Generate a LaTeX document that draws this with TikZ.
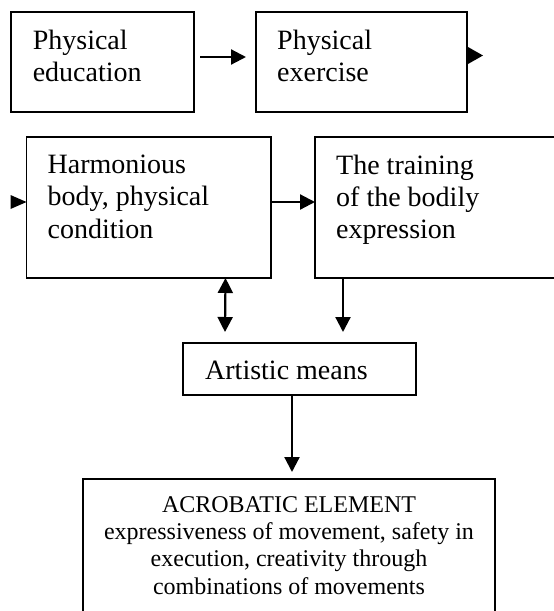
\documentclass[tikz,border=0pt]{standalone}
\usepackage{fontspec}
\setmainfont{Liberation Serif}
\usetikzlibrary{arrows.meta}
\tikzset{
  box/.style={draw, line width=1.8pt, inner sep=0pt, outer sep=0pt, anchor=north west},
  toptext/.style={anchor=north west, inner sep=0pt, align=left, font=\fontsize{28}{31.5}\selectfont},
  midtext/.style={anchor=north west, inner sep=0pt, align=left, font=\fontsize{28}{32.2}\selectfont},
  bottext/.style={anchor=north, inner sep=0pt, align=center, font=\fontsize{24}{27.4}\selectfont},
  arr/.style={line width=2.2pt, -{Triangle[length=15pt,width=15pt]}},
  darr/.style={line width=2.2pt, {Triangle[length=15pt,width=15pt]}-{Triangle[length=15pt,width=15pt]}},
}
\begin{document}
\begin{tikzpicture}[x=1pt,y=-1pt]
\useasboundingbox (0,0) rectangle (554,611);
\clip (0,0) rectangle (554,611);
% boxes
\node[box, minimum width=183.4pt, minimum height=100pt] (b1) at (10.6,12) {};
\node[box, minimum width=211pt, minimum height=100pt] (b2) at (256,12) {};
\node[box, minimum width=244.5pt, minimum height=141pt] (b3) at (26.5,137) {};
\node[box, minimum width=270pt, minimum height=141pt] (b4) at (315,137) {};
\node[box, minimum width=233pt, minimum height=52pt] (b5) at (183,343) {};
\node[box, minimum width=412pt, minimum height=160pt] (b6) at (83,479) {};
% texts
\node[toptext] (t1) at ([shift={(22,18)}]b1.north west) {Physical\\education};
\node[toptext] (t2) at ([shift={(21,18)}]b2.north west) {Physical\\exercise};
\node[midtext] (t3) at ([shift={(21,18)}]b3.north west) {Harmonious\\body, physical\\condition};
\node[midtext] (t4) at ([shift={(21,17.5)}]b4.north west) {The training\\of the bodily\\expression};
\node[toptext] (t5) at ([shift={(22,18)}]b5.north west) {Artistic means};
\node[bottext] (t6) at ([shift={(0,17.1)}]b6.north) {ACROBATIC ELEMENT\\expressiveness of movement, safety in\\execution, creativity through\\combinations of movements};
% connectors
\draw[arr] ([shift={(6,45)}]b1.north east) -- ([shift={(-10,45)}]b2.north west);
\fill ([shift={(1,35)}]b2.north east) -- ++(15,8.5) -- ++(-15,8.5) -- cycle;
\fill ([shift={(-16,58)}]b3.north west) -- ++(16,7) -- ++(-16,7) -- cycle;
\draw[arr] ([shift={(0,65)}]b3.north east) -- ([shift={(0,65)}]b4.north west);
\draw[darr] ([shift={(199,0)}]b3.south west) -- ([shift={(42,-11)}]b5.north west);
\draw[arr] ([shift={(28,0)}]b4.south west) -- ([shift={(160,-11)}]b5.north west);
\draw[arr] ([shift={(109,0)}]b5.south west) -- ([shift={(209,-7)}]b6.north west);
\end{tikzpicture}
\end{document}
